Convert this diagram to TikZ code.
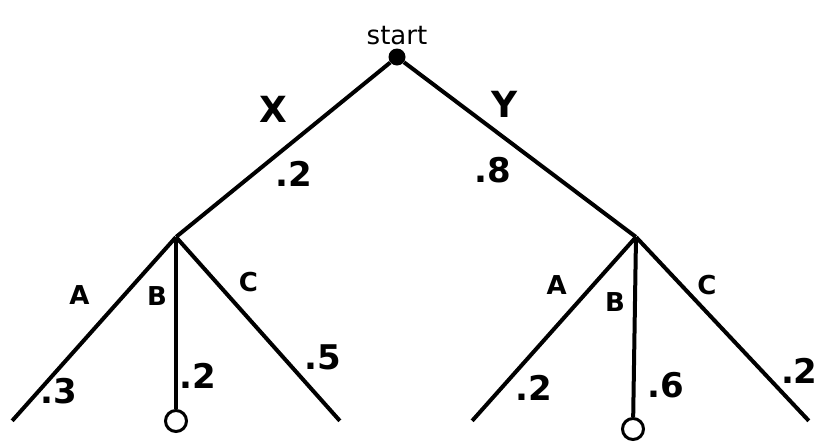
\documentclass[tikz,border=0pt]{standalone}
\usepackage{fontspec}
\setmainfont{DejaVu Sans}
\begin{document}
\begin{tikzpicture}[
        x=1pt, y=1pt,
        rootn/.style={fill=black, circle, minimum size=17pt, inner sep=0pt},
        splitn/.style={inner sep=0pt, minimum size=0pt},
        endn/.style={inner sep=0pt, minimum size=0pt},
        stopn/.style={draw, circle, line width=3pt, minimum size=21pt, inner sep=0pt},
        choice/.style={font=\fontsize{36}{42}\selectfont\bfseries},
        sub/.style={font=\fontsize{26}{30}\selectfont\bfseries},
        prob/.style={font=\fontsize{34}{40}\selectfont\bfseries},
        edge from parent/.style={draw, line width=4pt},
        level 1/.style={sibling distance=460pt, level distance=180pt},
        level 2/.style={sibling distance=164pt, level distance=184pt},
    ]
    \useasboundingbox (0,0) rectangle (828,-445);
    \node[rootn, label={[font=\fontsize{26}{30}\selectfont, label distance=0pt]above:start}](start) at (397,-57){}
    child{node[splitn, xshift=9pt](x){}
        child{node[endn](xa){}
            edge from parent node[sub, pos=0.436, xshift=-25pt, yshift=22pt]{A}
                             node[prob, pos=0.782, xshift=11pt, yshift=-10pt]{.3}
        }
        child{node[stopn](xb){}
            edge from parent node[sub, pos=0.345, xshift=-19pt]{B}
                             node[prob, pos=0.81, xshift=22pt]{.2}
        }
        child{node[endn](xc){}
            edge from parent node[sub, pos=0.331, xshift=18pt, yshift=16pt]{C}
                             node[prob, pos=0.76, xshift=22pt, yshift=19pt]{.5}
        }
        edge from parent node[choice, pos=0.439, xshift=-23pt, yshift=30pt]{X}
                         node[prob, pos=0.527, xshift=16pt, yshift=-20pt]{.2}
    }
    child{node[splitn, xshift=9pt](y){}
        child{node[endn](ya){}
            edge from parent node[sub, pos=0.361, xshift=-20pt, yshift=18pt]{A}
                             node[prob, pos=0.731, xshift=18pt, yshift=-16pt]{.2}
        }
        child{node[stopn, xshift=-3pt, yshift=-8pt](yb){}
            edge from parent node[sub, pos=0.36, xshift=-20pt]{B}
                             node[prob, pos=0.82, xshift=32pt]{.6}
        }
        child{node[endn, xshift=9pt](yc){}
            edge from parent node[sub, pos=0.329, xshift=14pt, yshift=13pt]{C}
                             node[prob, pos=0.829, xshift=20pt, yshift=19pt]{.2}
        }
        edge from parent node[choice, pos=0.373, xshift=14pt, yshift=23pt]{Y}
                         node[prob, pos=0.471, xshift=-20pt, yshift=-26pt]{.8}
    }
    ;
\end{tikzpicture}
\end{document}
